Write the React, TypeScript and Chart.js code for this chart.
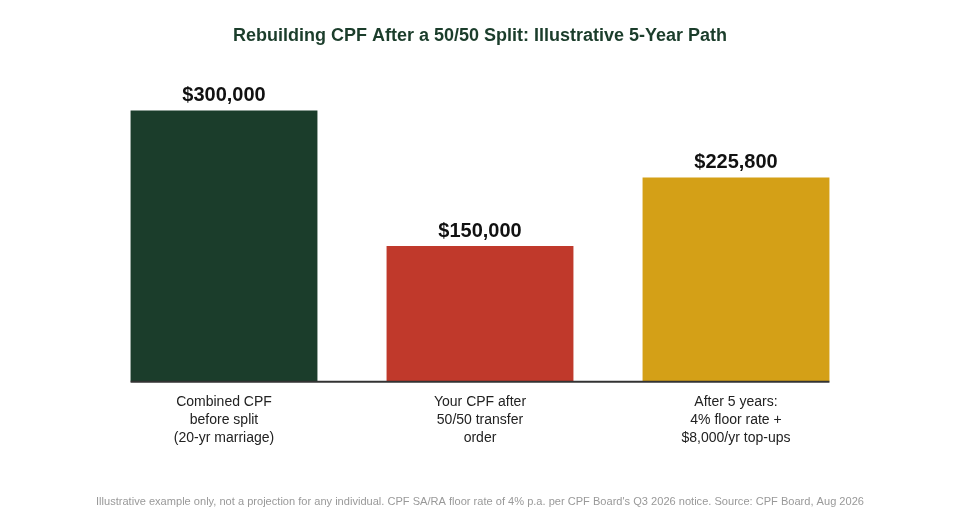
import { useEffect, useRef } from 'react'
import { Chart, ChartConfiguration, Plugin, registerables } from 'chart.js'

Chart.register(...registerables)

const categories: string[][] = [
  ['Combined CPF', 'before split', '(20-yr marriage)'],
  ['Your CPF after', '50/50 transfer', 'order'],
  ['After 5 years:', '4% floor rate +', '$8,000/yr top-ups'],
]
const balances = [300000, 150000, 225800]
const barColors = ['#1b3d2b', '#c0392b', '#d4a017']

const FONT = '"Liberation Sans", Arial, Helvetica, sans-serif'

const fmt = (v: number) => '$' + v.toLocaleString('en-US')

// dollar value above each bar + baseline that only spans the bars
const valueLabels: Plugin = {
  id: 'valueLabels',
  afterDatasetsDraw(chart) {
    const ctx = chart.ctx
    const meta = chart.getDatasetMeta(0)
    const bars = meta.data as any[]
    ctx.save()
    const first = bars[0]
    const last = bars[bars.length - 1]
    const base = chart.chartArea.bottom
    ctx.strokeStyle = '#333333'
    ctx.lineWidth = 2
    ctx.beginPath()
    ctx.moveTo(first.x - first.width / 2, base)
    ctx.lineTo(last.x + last.width / 2, base)
    ctx.stroke()

    ctx.font = `bold 20px ${FONT}`
    ctx.fillStyle = '#111111'
    ctx.textAlign = 'center'
    ctx.textBaseline = 'bottom'
    bars.forEach((bar, i) => {
      ctx.fillText(fmt(balances[i]), bar.x, bar.y - 5)
    })
    ctx.restore()
  },
}

export default function App() {
  const canvasRef = useRef<HTMLCanvasElement>(null)
  const chartRef = useRef<Chart | null>(null)

  useEffect(() => {
    if (!canvasRef.current) return
    const ctx = canvasRef.current.getContext('2d')
    if (!ctx) return

    if (chartRef.current) chartRef.current.destroy()

    const config: ChartConfiguration = {
      type: 'bar',
      data: {
        labels: categories,
        datasets: [
          {
            data: balances,
            backgroundColor: barColors,
            borderWidth: 0,
            barPercentage: 0.73,
            categoryPercentage: 1,
          },
        ],
      },
      options: {
        responsive: false,
        animation: false,
        layout: { padding: { left: 96, right: 96, top: 0, bottom: 0 } },
        plugins: {
          legend: { display: false },
          tooltip: { enabled: false },
          title: {
            display: true,
            text: 'Rebuilding CPF After a 50/50 Split: Illustrative 5-Year Path',
            color: '#1b3d2b',
            font: { family: FONT, size: 18, weight: 'bold' },
            padding: { top: 25, bottom: 35 },
          },
          subtitle: {
            display: true,
            position: 'bottom',
            text: "Illustrative example only, not a projection for any individual. CPF SA/RA floor rate of 4% p.a. per CPF Board's Q3 2026 notice. Source: CPF Board, Aug 2026",
            color: '#999999',
            font: { family: FONT, size: 11.4 },
            padding: { top: 37, bottom: 11 },
          },
        },
        scales: {
          x: {
            grid: { display: false, drawTicks: false },
            border: { display: false },
            ticks: {
              color: '#222222',
              font: { family: FONT, size: 14, lineHeight: 1.3 },
              padding: 11,
              maxRotation: 0,
            },
          },
          y: {
            display: false,
            min: 0,
            max: 332000,
          },
        },
      },
      plugins: [valueLabels],
    }

    chartRef.current = new Chart(ctx, config)

    return () => {
      chartRef.current?.destroy()
      chartRef.current = null
    }
  }, [])

  return (
    <div style={{ position: 'absolute', left: 0, top: 0, width: 960, height: 520, background: '#ffffff' }}>
      <canvas ref={canvasRef} width={960} height={520} style={{ width: 960, height: 520 }} />
    </div>
  )
}
